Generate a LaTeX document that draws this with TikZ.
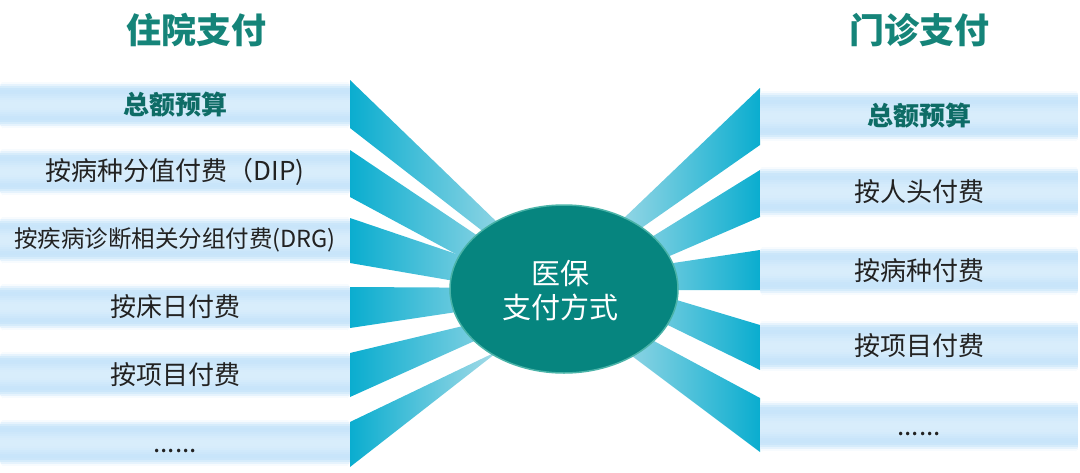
\documentclass[tikz,border=0pt]{standalone}
\usepackage{fontspec}
\setmainfont{Noto Sans CJK SC}
\definecolor{boxblue}{HTML}{C8E5FA}
\definecolor{wdark}{HTML}{0AADCF}
\definecolor{wlight}{HTML}{A8DCE8}
\definecolor{ellfill}{HTML}{06857F}
\definecolor{elledge}{HTML}{4AB3A8}
\definecolor{titlecol}{HTML}{158479}
\definecolor{boldcol}{HTML}{0E6C66}
\definecolor{txtcol}{HTML}{222222}
% gradient band: centre x, centre y, width, height
\newcommand{\gradbox}[4]{%
  \begin{scope}
    \clip[rounded corners=7pt] ({#1-#3/2},{#2-#4/2}) rectangle ({#1+#3/2},{#2+#4/2});
    \foreach \p [count=\i from 0] in {0,15,45,75,95,100,98,92,85,78,72,70,70,70,72,78,85,92,98,100,95,75,45,15,0}{
      \fill[boxblue!\p!white] ({#1-#3/2},{#2-#4/2+\i*#4/25}) rectangle ({#1+#3/2},{#2-#4/2+(\i+1.3)*#4/25});
    }
  \end{scope}}
\begin{document}
\begin{tikzpicture}[x=1pt,y=-1pt,
  lbox/.style={minimum width=350pt, minimum height=50pt, inner sep=0pt, text=txtcol, font=\fontsize{26}{30}\selectfont},
  rbox/.style={lbox, minimum width=318pt, minimum height=55pt},
  boldtxt/.style={text=boldcol, font=\fontsize{26}{30}\selectfont\bfseries},
  title/.style={text=titlecol, font=\fontsize{35}{40}\selectfont\bfseries},
  lwedge/.style={left color=wdark, right color=wlight, draw=none},
  rwedge/.style={left color=wlight, right color=wdark, draw=none}]
\useasboundingbox (0,0) rectangle (1080,472);
% left wedges
\shade[lwedge] (350,80) -- (530,254) -- (530,268) -- (350,128) -- cycle;
\shade[lwedge] (350,150) -- (530,271) -- (530,294) -- (350,197) -- cycle;
\shade[lwedge] (350,218) -- (530,279) -- (530,294) -- (350,263) -- cycle;
\shade[lwedge] (350,287) -- (530,288) -- (530,301) -- (350,328) -- cycle;
\shade[lwedge] (350,353) -- (530,310) -- (530,316) -- (350,397) -- cycle;
\shade[lwedge] (350,422) -- (500,350) -- (350,467) -- cycle;
% right wedges
\shade[rwedge] (760,88) -- (600,241) -- (600,257) -- (760,145) -- cycle;
\shade[rwedge] (760,170) -- (600,269) -- (600,286) -- (760,217) -- cycle;
\shade[rwedge] (760,250) -- (600,274) -- (600,290) -- (760,290) -- cycle;
\shade[rwedge] (760,325) -- (600,277) -- (600,292) -- (760,370) -- cycle;
\shade[rwedge] (760,398) -- (600,312) -- (600,332) -- (760,452) -- cycle;
% band backgrounds
\gradbox{175}{105}{350}{50}
\gradbox{175}{172}{350}{50}
\gradbox{175}{240}{350}{50}
\gradbox{175}{307}{350}{50}
\gradbox{175}{375}{350}{50}
\gradbox{175}{443}{350}{49}
\gradbox{919}{116}{318}{55}
\gradbox{919}{192}{318}{55}
\gradbox{919}{271}{318}{52}
\gradbox{919}{346}{318}{55}
\gradbox{919}{426}{318}{55}
% titles
\node[title] (tl) at (196,30) {住院支付};
\node[title] (tr) at (919,30) {门诊支付};
% left boxes
\node[lbox, boldtxt] (l1) at (175,105) {总额预算};
\node[lbox] (l2) at (175,172) {按病种分值付费（DIP)};
\node[lbox, font=\fontsize{23.5}{28}\selectfont] (l3) at (175,240) {按疾病诊断相关分组付费(DRG)};
\node[lbox] (l4) at (175,307) {按床日付费};
\node[lbox] (l5) at (175,375) {按项目付费};
\node[lbox, minimum height=49pt] (l6) at (175,443) {\vphantom{按}......};
% right boxes
\node[rbox, boldtxt] (r1) at (919,116) {总额预算};
\node[rbox] (r2) at (919,192) {按人头付费};
\node[rbox, minimum height=52pt] (r3) at (919,271) {按病种付费};
\node[rbox] (r4) at (919,346) {按项目付费};
\node[rbox] (r5) at (919,426) {\vphantom{按}......};
% centre ellipse
\path[fill=ellfill, draw=elledge, line width=1.5pt] (564,289) ellipse [x radius=114, y radius=84];
\node[text=white, align=center, font=\fontsize{29}{34}\selectfont] (c) at (560,291) {医保\\支付方式};
\end{tikzpicture}
\end{document}
